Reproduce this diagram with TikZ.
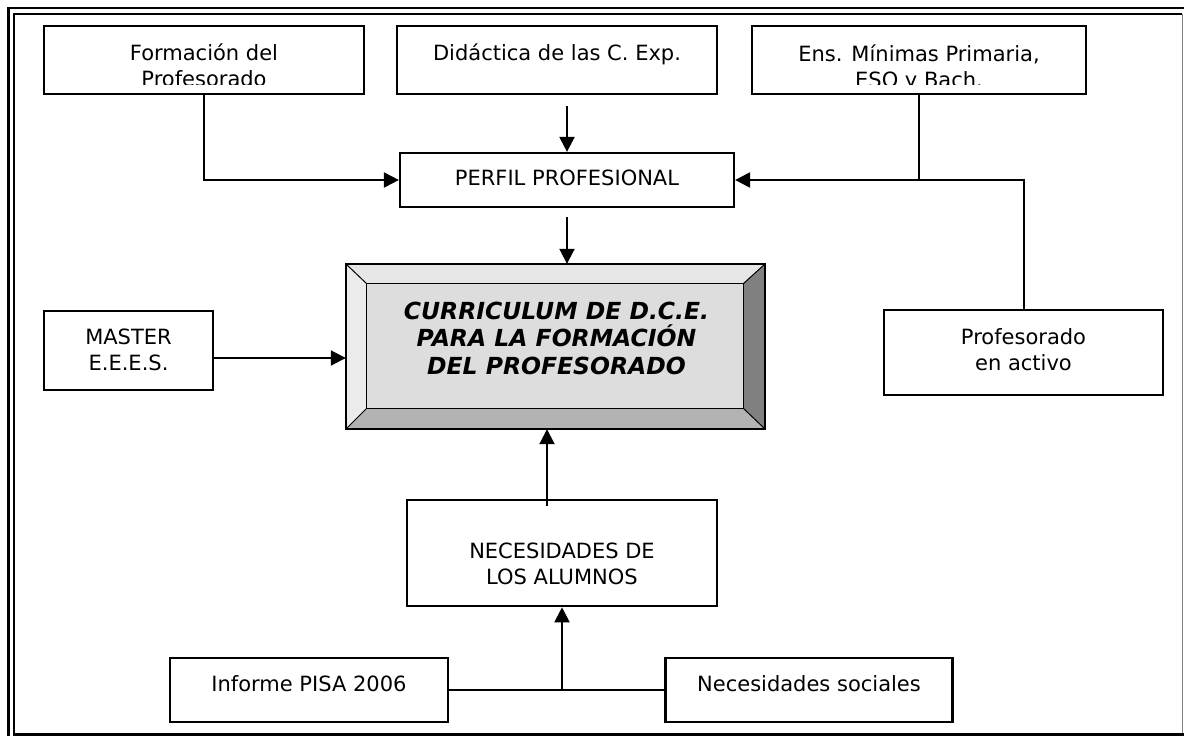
\documentclass[tikz,border=0pt]{standalone}
\usepackage{fontspec}
\setmainfont{DejaVu Sans}
\usetikzlibrary{arrows.meta,calc}
\definecolor{biselsup}{HTML}{E6E6E6}
\definecolor{biselizq}{HTML}{EBEBEB}
\definecolor{biselder}{HTML}{808080}
\definecolor{biselinf}{HTML}{B3B3B3}
\definecolor{biselcen}{HTML}{DDDDDD}
\tikzset{
  caja/.style={draw,line width=2.2pt,inner sep=0pt},
  texto/.style={align=center,inner sep=0pt,font=\fontsize{21}{26}\selectfont},
  titulo/.style={align=center,inner sep=0pt,font=\fontsize{23.5}{27.5}\selectfont\bfseries\itshape},
  flecha/.style={line width=2pt,-{Triangle[length=15pt,width=15pt]}},
  linea/.style={line width=2pt}
}
\begin{document}
\begin{tikzpicture}[x=1pt,y=-1pt]
  \useasboundingbox (0,0) rectangle (1184,736);
  % marco doble
  \draw[line width=2.5pt] (8.5,736) -- (8.5,8) -- (1184,8);
  \draw[line width=2pt] (13.5,736) -- (13.5,13.5) -- (1182,13.5);
  \draw[gray,line width=1.2pt] (1182.5,13.5) -- (1182.5,734);
  \draw[line width=2.5pt] (13.5,734.5) -- (1184,734.5);

  % cajas superiores
  \node[caja,minimum width=320pt,minimum height=68pt] (form) at (204,60) {};
  \node[caja,minimum width=320pt,minimum height=68pt] (did) at (557,60) {};
  \node[caja,minimum width=334pt,minimum height=68pt] (ens) at (919,60) {};
  \begin{scope}
    \clip (form.north west) rectangle ([yshift=11pt]form.south east);
    \node[texto] (formt) at (204,65) {Formación del\\Profesorado};
  \end{scope}
  \node[texto,anchor=base] (didt) at (557,60) {Didáctica de las C. Exp.};
  \begin{scope}
    \clip (ens.north west) rectangle ([yshift=11pt]ens.south east);
    \node[texto] (enst) at (919,68) {Ens. Mínimas Primaria,\\ESO y Bach.};
  \end{scope}

  \node[caja,minimum width=334pt,minimum height=54pt] (perf) at (567,180) {};
  \node[texto,anchor=base] (perft) at (567,185) {PERFIL PROFESIONAL};

  % caja central biselada
  \node[minimum width=419pt,minimum height=165pt,inner sep=0pt] (curr) at (555.5,346.5) {};
  \coordinate (i1) at ($(curr.north west)+(21,20)$);
  \coordinate (i2) at ($(curr.north east)+(-22,20)$);
  \coordinate (i3) at ($(curr.south east)+(-22,-21)$);
  \coordinate (i4) at ($(curr.south west)+(21,-21)$);
  \fill[biselsup] (curr.north west) -- (curr.north east) -- (i2) -- (i1) -- cycle;
  \fill[biselizq] (curr.north west) -- (i1) -- (i4) -- (curr.south west) -- cycle;
  \fill[biselder] (curr.north east) -- (curr.south east) -- (i3) -- (i2) -- cycle;
  \fill[biselinf] (curr.south west) -- (i4) -- (i3) -- (curr.south east) -- cycle;
  \fill[biselcen] (i1) rectangle (i3);
  \draw[line width=1.3pt] (i1) rectangle (i3);
  \draw[line width=1pt] (curr.north west) -- (i1) (curr.north east) -- (i2)
    (curr.south east) -- (i3) (curr.south west) -- (i4);
  \draw[line width=2pt] (curr.north west) rectangle (curr.south east);
  \node[titulo] (currt) at (556.5,338) {CURRICULUM DE D.C.E.\\PARA LA FORMACIÓN\\DEL PROFESORADO};

  \node[caja,minimum width=169pt,minimum height=79pt] (mast) at (128.5,350.5) {};
  \node[texto] (mastt) at (128.5,349.5) {MASTER\\E.E.E.S.};
  \node[caja,minimum width=279pt,minimum height=85pt] (prof) at (1023.5,352.5) {};
  \node[texto] (proft) at (1023.5,350) {Profesorado\\en activo};

  % cajas inferiores
  \node[caja,minimum width=310pt,minimum height=106pt,line width=2.6pt] (nec) at (562,553) {};
  \node[texto] (nect) at (562,564) {NECESIDADES DE\\LOS ALUMNOS};
  \node[caja,minimum width=278pt,minimum height=64pt] (inf) at (309,690) {};
  \node[texto,anchor=base] (inft) at (309,691) {Informe PISA 2006};
  \node[caja,minimum width=287pt,minimum height=64pt] (soc) at (809,690) {};
  \node[texto,anchor=base] (soct) at (809,691) {Necesidades sociales};

  % conectores
  \draw[flecha] (form) |- (perf);
  \coordinate (d1) at (did.south -| perf.north);
  \draw[flecha] ([yshift=-11pt]d1) -- (perf.north);
  \draw[flecha] (ens) |- (perf);
  \coordinate (nudo1) at (ens.south |- perf.east);
  \draw[linea] (prof.north) |- (nudo1);
  \coordinate (p1) at (perf.south |- curr.north);
  \draw[flecha] ([yshift=-9pt]perf.south) -- (p1);
  \coordinate (m1) at ([yshift=-7.5pt]mast.east);
  \draw[flecha] (m1) -- (m1 -| curr.west);
  \coordinate (n1) at ([xshift=-15pt,yshift=-7pt]nec.north);
  \draw[flecha] (n1) -- (n1 |- curr.south);
  \draw[linea] (inf.east) -- (soc.west);
  \coordinate (nudo2) at (nec.south |- inf.east);
  \draw[flecha] (nudo2) -- (nec.south);
\end{tikzpicture}
\end{document}
